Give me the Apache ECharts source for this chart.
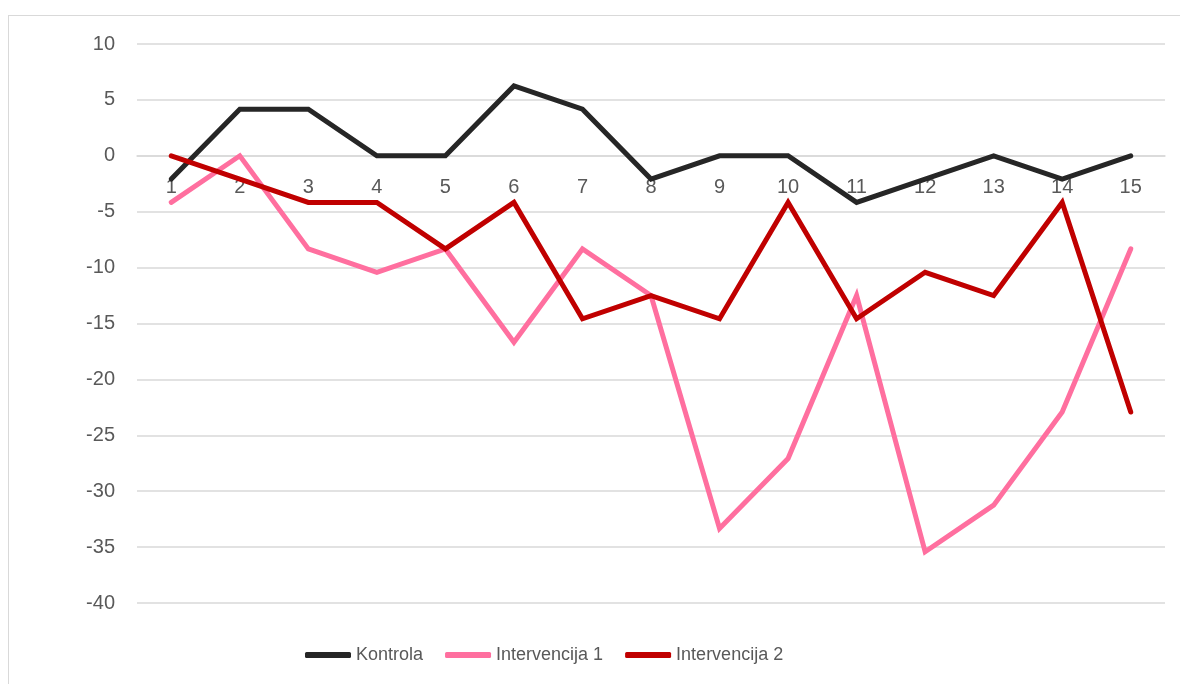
<!DOCTYPE html>
<html>
<head>
<meta charset="utf-8">
<script src="https://cdn.jsdelivr.net/npm/echarts@6/dist/echarts.min.js"></script>
<style>
  html, body { margin: 0; padding: 0; background: #fff; }
  #frame {
    position: absolute; left: 8px; top: 15px; width: 1200px; height: 700px;
    border-left: 1px solid #d9d9d9; border-top: 1px solid #d9d9d9;
  }
  #chart { position: absolute; left: 0; top: 0; width: 1180px; height: 684px; }
</style>
</head>
<body>
<div id="frame"></div>
<div id="chart"></div>
<script>
// podaci
var categories = ['1', '2', '3', '4', '5', '6', '7', '8', '9', '10', '11', '12', '13', '14', '15'];
var kontrola = [-2.08, 4.17, 4.17, 0, 0, 6.25, 4.17, -2.08, 0, 0, -4.17, -2.08, 0, -2.08, 0];
var intervencija1 = [-4.17, 0, -8.33, -10.42, -8.33, -16.67, -8.33, -12.5, -33.33, -27.08, -12.5, -35.42, -31.25, -22.92, -8.33];
var intervencija2 = [0, -2.08, -4.17, -4.17, -8.33, -4.17, -14.58, -12.5, -14.58, -4.17, -14.58, -10.42, -12.5, -4.17, -22.92];

var font = '"Liberation Sans", Arial, sans-serif';
var chart = echarts.init(document.getElementById('chart'));

function lineSeries(name, data, color) {
  return {
    name: name,
    type: 'line',
    data: data,
    symbol: 'none',
    smooth: false,
    color: color,
    lineStyle: { width: 5, color: color, join: 'miter', cap: 'round' }
  };
}

// os x stoji na nuli: 0 je 447px iznad dna mreze (-40)
chart.setOption({
  animation: false,
  grid: { left: 137, right: 15, top: 44, bottom: 81 },
  legend: {
    bottom: 15,
    left: 300,
    icon: 'roundRect',
    itemWidth: 46,
    itemHeight: 6,
    itemGap: 22,
    textStyle: { fontFamily: font, fontSize: 18, color: '#595959' },
    data: ['Kontrola', 'Intervencija 1', 'Intervencija 2']
  },
  xAxis: {
    type: 'category',
    data: categories,
    boundaryGap: true,
    offset: -447,
    axisLine: { onZero: false, lineStyle: { color: '#d9d9d9', width: 1.5 } },
    axisTick: { show: false },
    axisLabel: { fontFamily: font, fontSize: 20, color: '#595959', margin: 21 },
    splitLine: { show: false }
  },
  yAxis: {
    type: 'value',
    min: -40,
    max: 10,
    interval: 5,
    axisLine: { show: false },
    axisTick: { show: false },
    axisLabel: { fontFamily: font, fontSize: 20, color: '#595959', margin: 22 },
    splitLine: { lineStyle: { color: '#d9d9d9', width: 1.5 } }
  },
  series: [
    lineSeries('Kontrola', kontrola, '#262626'),
    lineSeries('Intervencija 1', intervencija1, '#ff6f9f'),
    lineSeries('Intervencija 2', intervencija2, '#c00000')
  ]
});
</script>
</body>
</html>
